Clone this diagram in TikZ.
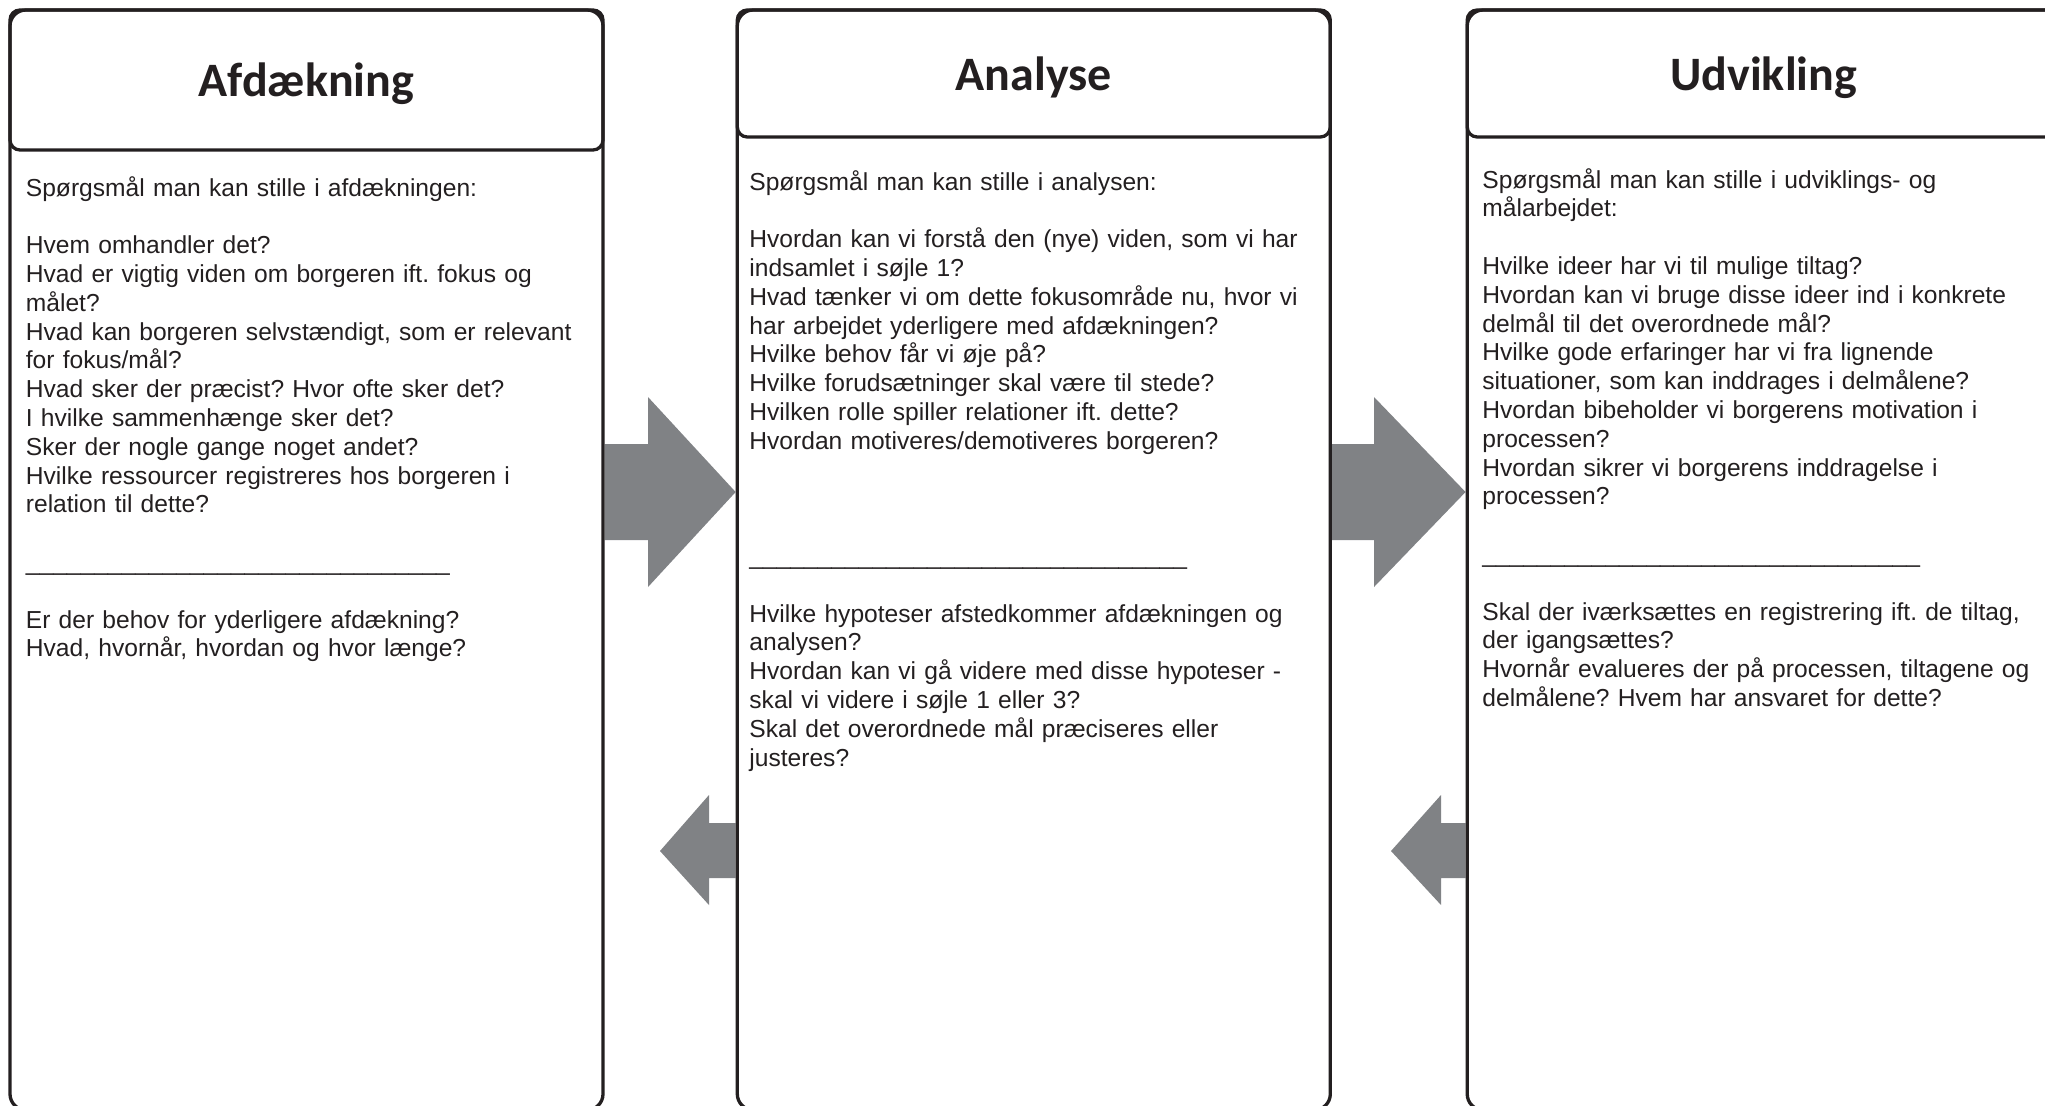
\documentclass[tikz,border=0pt]{standalone}
\usepackage{fontspec}
\setmainfont{Liberation Sans}
\newfontfamily\titleFont{Carlito}
\frenchspacing
\usepackage{tikz}
\usetikzlibrary{
    calc,
    positioning,
    backgrounds
}
\definecolor{inkBlack}{RGB}{35,31,32}
\definecolor{arrowGray}{RGB}{128,130,133}
\tikzset{
    >=latex,
    % Columns
    column/.style={
        draw=inkBlack,
        line width=1.65pt,
        rounded corners=8pt,
        inner sep=0pt,
        minimum width=296.5pt,
        minimum height=550pt
    },
    columnHead/.style={
        column,
        rounded corners=5pt,
        text=inkBlack,
        text depth=0pt,
        font=\titleFont\bfseries\fontsize{24pt}{28pt}\selectfont
    },
    % Question lists
    columnText/.style={
        anchor=base west,
        text width=290pt,
        align=left,
        inner sep=0pt,
        text=inkBlack,
        font=\fontsize{12.3pt}{14.4pt}\selectfont
    },
    % Big grey arrows
    blockArrow/.style={
        fill=arrowGray,
        draw=none
    }
}

\begin{document}
\begin{tikzpicture}[x=0.5pt,y=-0.5pt]

    \useasboundingbox (0,0) rectangle (2045,1105);

    \node[column] (colA) at (306.5,560) {};
    \node[column, right=65.5pt of colA] (colB) {};
    \node[column, right=66.8pt of colB] (colC) {};

    \node[columnHead, minimum height=70pt, anchor=north] (headA) at (colA.north) {Afdækning};
    \node[columnHead, minimum height=63.5pt, anchor=north] (headB) at (colB.north) {Analyse};
    \node[columnHead, minimum height=63.5pt, anchor=north] (headC) at (colC.north) {Udvikling};

    \node[columnText] (textA) at (25.5,196) {%
        Spørgsmål man kan stille i afdækningen:\\[14.4pt]
        Hvem omhandler det?\\
        Hvad er vigtig viden om borgeren ift. fokus og\\
        målet?\\
        Hvad kan borgeren selvstændigt, som er relevant\\
        for fokus/mål?\\
        Hvad sker der præcist? Hvor ofte sker det?\\
        I hvilke sammenhænge sker det?\\
        Sker der nogle gange noget andet?\\
        Hvilke ressourcer registreres hos borgeren i\\
        relation til dette?\\[14.4pt]
        \_\_\_\_\_\_\_\_\_\_\_\_\_\_\_\_\_\_\_\_\_\_\_\_\_\_\_\_\_\_\_\\[14.4pt]
        Er der behov for yderligere afdækning?\\
        Hvad, hvornår, hvordan og hvor længe?};

    \node[columnText] (textB) at (749,190) {%
        Spørgsmål man kan stille i analysen:\\[14.4pt]
        Hvordan kan vi forstå den (nye) viden, som vi har\\
        indsamlet i søjle 1?\\
        Hvad tænker vi om dette fokusområde nu, hvor vi\\
        har arbejdet yderligere med afdækningen?\\
        Hvilke behov får vi øje på?\\
        Hvilke forudsætninger skal være til stede?\\
        Hvilken rolle spiller relationer ift. dette?\\
        Hvordan motiveres/demotiveres borgeren?\\[43.2pt]
        \_\_\_\_\_\_\_\_\_\_\_\_\_\_\_\_\_\_\_\_\_\_\_\_\_\_\_\_\_\_\_\_\\[14.4pt]
        Hvilke hypoteser afstedkommer afdækningen og\\
        analysen?\\
        Hvordan kan vi gå videre med disse hypoteser -\\
        skal vi videre i søjle 1 eller 3?\\
        Skal det overordnede mål præciseres eller\\
        justeres?};

    \node[columnText] (textC) at (1482,188) {%
        Spørgsmål man kan stille i udviklings- og\\
        målarbejdet:\\[14.4pt]
        Hvilke ideer har vi til mulige tiltag?\\
        Hvordan kan vi bruge disse ideer ind i konkrete\\
        delmål til det overordnede mål?\\
        Hvilke gode erfaringer har vi fra lignende\\
        situationer, som kan inddrages i delmålene?\\
        Hvordan bibeholder vi borgerens motivation i\\
        processen?\\
        Hvordan sikrer vi borgerens inddragelse i\\
        processen?\\[14.4pt]
        \_\_\_\_\_\_\_\_\_\_\_\_\_\_\_\_\_\_\_\_\_\_\_\_\_\_\_\_\_\_\_\_\\[14.4pt]
        Skal der iværksættes en registrering ift. de tiltag,\\
        der igangsættes?\\
        Hvornår evalueres der på processen, tiltagene og\\
        delmålene? Hvem har ansvaret for dette?};

    \begin{scope}[on background layer]
        % forward arrows
        \fill[blockArrow] (colA.east |- 0,444) -- (648,444) -- (648,397) -- (colB.west |- 0,492)
            -- (648,587) -- (648,540) -- (colA.east |- 0,540) -- cycle;
        \fill[blockArrow] (colB.east |- 0,444) -- (1374,444) -- (1374,397) -- (colC.west |- 0,492)
            -- (1374,587) -- (1374,540) -- (colB.east |- 0,540) -- cycle;
        % backward arrows
        \fill[blockArrow] (colB.west |- 0,823) -- (709,823) -- (709,795) -- (660,851)
            -- (709,905) -- (709,878) -- (colB.west |- 0,878) -- cycle;
        \fill[blockArrow] (colC.west |- 0,823) -- (1441,823) -- (1441,795) -- (1391,851)
            -- (1441,905) -- (1441,878) -- (colC.west |- 0,878) -- cycle;
    \end{scope}

\end{tikzpicture}
\end{document}
